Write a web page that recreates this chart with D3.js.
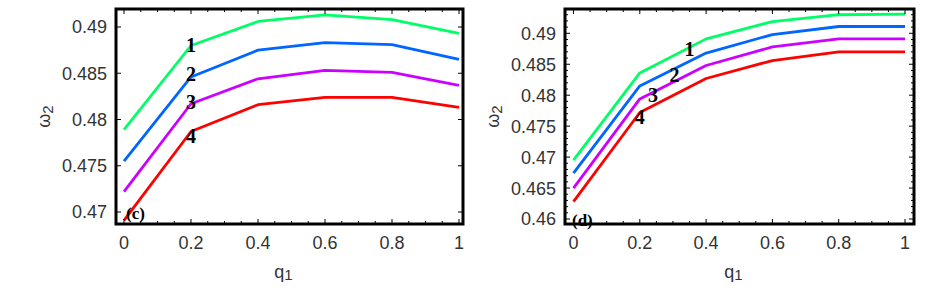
<!DOCTYPE html>
<html>
<head>
<meta charset="utf-8">
<title>omega2 vs q1</title>
<script src="https://cdn.jsdelivr.net/npm/d3@7"></script>
<style>
    body { margin: 0; background: #fff; }
    svg text { font-family: "Liberation Sans", Arial, sans-serif; }
    .tick-label { font-size: 18px; fill: #333; }
    .curve-label { font-family: "Liberation Serif", "Times New Roman", serif !important; font-weight: bold; font-size: 20px; fill: #000; }
</style>
</head>
<body>
<svg id="chart" width="948" height="293"></svg>
<script>
    // shared x values (q1)
    var q1 = [0, 0.2, 0.4, 0.6, 0.8, 1];
    var xTicks = [0, 0.2, 0.4, 0.6, 0.8, 1];
    var xTickLabels = ["0", "0.2", "0.4", "0.6", "0.8", "1"];
    // Mathematica Hue[0.4], Hue[0.6], Hue[0.8], Hue[1]
    var curveColors = ["#00ff66", "#0066ff", "#cc00ff", "#ff0000"];
    var curveNames = ["1", "2", "3", "4"];

    // panel (c)
    var cCurve1 = [0.4789, 0.4880, 0.4906, 0.4913, 0.4908, 0.4893];
    var cCurve2 = [0.4755, 0.4846, 0.4875, 0.4883, 0.4881, 0.4865];
    var cCurve3 = [0.4722, 0.4817, 0.4844, 0.4853, 0.4851, 0.4837];
    var cCurve4 = [0.4691, 0.4787, 0.4816, 0.4824, 0.4824, 0.4813];
    var cYTicks = [0.47, 0.475, 0.48, 0.485, 0.49];
    var cYTickLabels = ["0.47", "0.475", "0.48", "0.485", "0.49"];
    var cLabelAt = [[0.2, 0.4881], [0.2, 0.4849], [0.2, 0.4819], [0.2, 0.4782]];

    // panel (d)
    var dCurve1 = [0.4695, 0.4836, 0.4891, 0.4919, 0.4930, 0.4931];
    var dCurve2 = [0.4674, 0.4815, 0.4868, 0.4898, 0.4911, 0.4911];
    var dCurve3 = [0.4650, 0.4794, 0.4848, 0.4878, 0.4891, 0.4891];
    var dCurve4 = [0.4628, 0.4772, 0.4827, 0.4856, 0.4870, 0.4870];
    var dYTicks = [0.46, 0.465, 0.47, 0.475, 0.48, 0.485, 0.49];
    var dYTickLabels = ["0.46", "0.465", "0.47", "0.475", "0.48", "0.485", "0.49"];
    var dLabelAt = [[0.35, 0.4875], [0.305, 0.4833], [0.24, 0.4801], [0.2, 0.4764]];

    var svg = d3.select("#chart");

    var panels = [
        {tag: "(c)", curves: [cCurve1, cCurve2, cCurve3, cCurve4], yTicks: cYTicks, yLabels: cYTickLabels,
            labelAt: cLabelAt, yDomain: [0.47, 0.49], frame: [116, 463, 9, 224],
            xRange: [124, 459], yRange: [212, 27], minorY: false, tagPos: [126, 219]},
        {tag: "(d)", curves: [dCurve1, dCurve2, dCurve3, dCurve4], yTicks: dYTicks, yLabels: dYTickLabels,
            labelAt: dLabelAt, yDomain: [0.46, 0.49], frame: [565, 914, 9, 224],
            xRange: [573.5, 905], yRange: [219, 33.3], minorY: true, tagPos: [572, 226]}
    ];

    panels.forEach(function (p, pi) {
        var x = d3.scaleLinear().domain([0, 1]).range(p.xRange);
        var y = d3.scaleLinear().domain(p.yDomain).range(p.yRange);
        var f = p.frame;
        var g = svg.append("g");

        var clipId = "clip" + pi;
        g.append("clipPath").attr("id", clipId)
            .append("rect").attr("x", f[0]).attr("y", f[2])
            .attr("width", f[1] - f[0]).attr("height", f[3] - f[2]);

        // curves
        var line = d3.line().x(function (d, i) { return x(q1[i]); }).y(function (d) { return y(d); });
        g.append("g").attr("clip-path", "url(#" + clipId + ")")
            .selectAll("path").data(p.curves).join("path")
            .attr("d", line)
            .attr("fill", "none")
            .attr("stroke", function (d, i) { return curveColors[i]; })
            .attr("stroke-width", 2.8)
            .attr("stroke-linejoin", "round");

        // minor ticks along top and bottom (every 0.05)
        var xMinor = d3.range(0, 1.0001, 0.05);
        g.selectAll(".xt").data(xMinor).join("line")
            .attr("x1", function (d) { return x(d); }).attr("x2", function (d) { return x(d); })
            .attr("y1", f[2]).attr("y2", function (d, i) { return f[2] + (i % 4 === 0 ? 5 : 3); })
            .attr("stroke", "#000").attr("stroke-width", 1);
        g.selectAll(".xb").data(xMinor).join("line")
            .attr("x1", function (d) { return x(d); }).attr("x2", function (d) { return x(d); })
            .attr("y1", f[3]).attr("y2", function (d, i) { return f[3] - (i % 4 === 0 ? 5 : 3); })
            .attr("stroke", "#000").attr("stroke-width", 1);

        // y ticks on left and right
        var yAll = p.minorY ? d3.range(p.yDomain[0], p.yDomain[1] + 0.0035, 0.001) : p.yTicks;
        yAll = yAll.filter(function (d) { return y(d) > f[2] + 1 && y(d) < f[3] - 1; });
        [f[0], f[1]].forEach(function (xe, side) {
            g.append("g").selectAll("line").data(yAll).join("line")
                .attr("x1", xe)
                .attr("x2", function (d) {
                    var major = Math.abs(Math.round(d * 200) - d * 200) < 1e-6;
                    var len = major ? 5 : 3;
                    return side === 0 ? xe + len : xe - len;
                })
                .attr("y1", function (d) { return y(d); }).attr("y2", function (d) { return y(d); })
                .attr("stroke", "#000").attr("stroke-width", 1);
        });

        // frame
        g.append("rect")
            .attr("x", f[0]).attr("y", f[2])
            .attr("width", f[1] - f[0]).attr("height", f[3] - f[2])
            .attr("fill", "none").attr("stroke", "#000").attr("stroke-width", 3);

        // tick labels
        g.selectAll(".ylab").data(p.yTicks).join("text")
            .attr("class", "tick-label")
            .attr("x", f[0] - 9)
            .attr("y", function (d) { return y(d); })
            .attr("dy", "0.36em")
            .attr("text-anchor", "end")
            .text(function (d, i) { return p.yLabels[i]; });
        g.selectAll(".xlab").data(xTicks).join("text")
            .attr("class", "tick-label")
            .attr("x", function (d) { return x(d); })
            .attr("y", 249)
            .attr("text-anchor", "middle")
            .text(function (d, i) { return xTickLabels[i]; });

        // axis titles
        var xt = g.append("text").attr("class", "tick-label")
            .attr("x", (f[0] + f[1]) / 2 - 6).attr("y", 278).attr("text-anchor", "middle");
        xt.append("tspan").text("q");
        xt.append("tspan").attr("font-size", "15px").attr("dy", 2).text("1");

        var yt = g.append("text").attr("class", "tick-label")
            .attr("transform", "translate(" + (f[0] - 66) + "," + ((f[2] + f[3]) / 2) + ") rotate(-90)")
            .attr("text-anchor", "middle");
        yt.append("tspan").text("ω");
        yt.append("tspan").attr("font-size", "15px").attr("dy", 3).text("2");

        // curve numbers
        g.selectAll(".cl").data(p.labelAt).join("text")
            .attr("class", "curve-label")
            .attr("x", function (d) { return x(d[0]); })
            .attr("y", function (d) { return y(d[1]); })
            .attr("dy", "0.35em")
            .attr("text-anchor", "middle")
            .text(function (d, i) { return curveNames[i]; });

        // panel tag
        g.append("text").attr("class", "curve-label")
            .attr("x", p.tagPos[0]).attr("y", p.tagPos[1])
            .style("font-size", "17px")
            .text(p.tag);
    });
</script>
</body>
</html>
